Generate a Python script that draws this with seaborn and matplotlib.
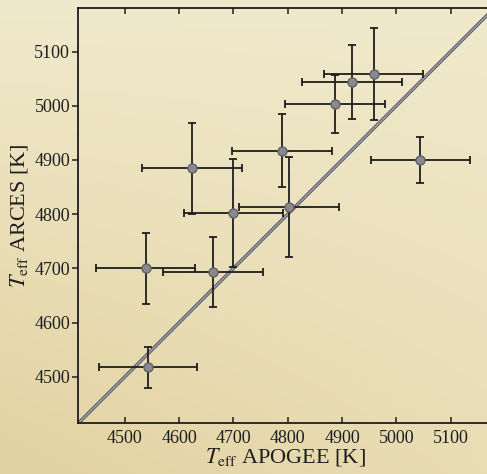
import numpy as np
import pandas as pd
import matplotlib
matplotlib.use("Agg")
import matplotlib.pyplot as plt
import seaborn as sns

# Data
teff_apogee = [4538, 4543, 4624, 4663, 4700, 4790, 4803, 4887, 4918, 4958, 5044]
teff_arces = [4700, 4517, 4885, 4693, 4802, 4917, 4813, 5003, 5044, 5059, 4900]
err_apogee = [92, 90, 92, 92, 92, 92, 92, 92, 92, 92, 91]
err_arces = [66, 37, 84, 65, 100, 67, 92, 53, 68, 85, 43]
tick_values = [4500, 4600, 4700, 4800, 4900, 5000, 5100]

df = pd.DataFrame({"apogee": teff_apogee, "arces": teff_arces,
                   "xerr": err_apogee, "yerr": err_arces})

sns.set_theme(style="ticks")
plt.rcParams["font.family"] = ["Liberation Serif", "DejaVu Serif"]
plt.rcParams["mathtext.fontset"] = "stix"

fig = plt.figure(figsize=(4.87, 4.74), dpi=100)

# parchment-like background
bg = fig.add_axes([0, 0, 1, 1], zorder=-10)
yy, xx = np.mgrid[0:1:200j, 0:1:200j]
light = np.array([0.95, 0.925, 0.82])
dark = np.array([0.89, 0.83, 0.64])
t = np.clip(0.5 * yy + 0.45 * (1 - xx) * yy + 0.12, 0, 1)[..., None]
img = light * (1 - t) + dark * t
bg.imshow(img, extent=[0, 1, 0, 1], aspect="auto", origin="upper")
bg.set_axis_off()

ax = fig.add_axes([77.7 / 487, 50.7 / 474, 416.3 / 487, 415 / 474])
ax.patch.set_alpha(0)

ax.set_xlim(4413, 5180)
ax.set_ylim(4414, 5180)

ax.axline((4500, 4500), slope=1, color="#55555f", lw=2.4, zorder=1)
ax.axline((4500, 4500), slope=1, color="#a9a9b8", lw=0.9, zorder=1.1)

ax.errorbar(df["apogee"], df["arces"], xerr=df["xerr"], yerr=df["yerr"],
            fmt="none", ecolor="#1e1e1e", elinewidth=1.3, capsize=3.2,
            capthick=1.3, zorder=2)
sns.scatterplot(data=df, x="apogee", y="arces", ax=ax, s=42,
                color="#8a8a8e", edgecolor="#606066", linewidth=1.0,
                zorder=3)

ax.set_xticks(tick_values)
ax.set_yticks(tick_values)
ax.tick_params(axis="x", direction="in", top=True, bottom=True,
               length=4.5, width=1.1, labelsize=13, pad=5,
               colors="#1e1e1e")
ax.tick_params(axis="y", direction="out", left=True, right=False,
               length=4.5, width=1.1, labelsize=13, pad=1,
               colors="#1e1e1e")
for s in ["left", "bottom", "top"]:
    ax.spines[s].set_linewidth(1.3)
    ax.spines[s].set_color("#1e1e1e")
ax.spines["right"].set_visible(False)

ax.set_xlabel(r"$T_{\rm eff}$ APOGEE [K]", fontsize=16, labelpad=-1,
              color="#1e1e1e")
ax.set_ylabel(r"$T_{\rm eff}$ ARCES [K]", fontsize=16, labelpad=3,
              color="#1e1e1e")

fig.savefig("out.png", dpi=100)
